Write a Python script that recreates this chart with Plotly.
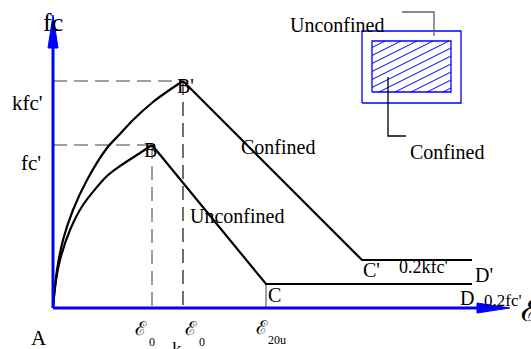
import plotly.graph_objects as go

# Stress-strain model for unconfined and confined concrete (Kent-Park type)
# strain axis in drawing units, stress axis in drawing units (origin at A)

# Ascending branch of the unconfined curve, up to peak B
unconf_rise_x = [0, 2, 7, 17, 30, 54, 67, 87, 99]
unconf_rise_y = [0, 21, 48, 78, 103, 132, 142, 155, 163]
# Descending branch B -> C and residual plateau C -> D
unconf_tail_x = [99, 213, 419]
unconf_tail_y = [163, 24, 24]

# Ascending branch of the confined curve, up to peak B'
conf_rise_x = [0, 1, 4, 10, 20, 34, 54, 67, 80, 100, 115, 130]
conf_rise_y = [0, 11, 38, 68, 98, 128, 160, 174, 188, 206, 217, 227]
# Descending branch B' -> C' and residual plateau C' -> D'
conf_tail_x = [130, 309, 419]
conf_tail_y = [227, 48, 48]

# Characteristic strains / stresses
eps0 = 99          # strain at peak, unconfined
keps0 = 130        # strain at peak, confined
eps20u = 213       # strain at 0.2 fc' (unconfined)
fc = 163           # fc'
kfc = 227          # k fc'
res_unconf = 24    # 0.2 fc'

# Axis extents
x_axis_end, x_arrow_tip = 424, 457
y_axis_end, y_arrow_tip = 260, 293

# Section inset (outer cover and hatched confined core)
outer_box = [309, 408, 205, 277]
core_box = [319, 398, 216, 267]
hatch_slope = 0.5
hatch_step = 8

# Leader lines of the inset
leader_unconf_x = [349, 381, 381]
leader_unconf_y = [296, 296, 272]
leader_conf_x = [335, 335, 353]
leader_conf_y = [231, 172, 172]

# Text labels: (text, x, y, size)
labels = [
    ("fc", 0, 286, 26),
    ("kfc'", -26, 205, 21),
    ("fc'", -22, 145, 21),
    ("B'", 132, 222, 20),
    ("B", 97, 158, 20),
    ("Confined", 225, 161, 20),
    ("Unconfined", 184, 92, 20),
    ("C", 221, 13, 20),
    ("C'", 318, 38, 20),
    ("0.2kfc'", 370, 41, 18),
    ("D'", 431, 33, 20),
    ("D", 414, 10, 20),
    ("0.2fc'", 450, 8, 17),
    ("Unconfined", 284, 283, 20),
    ("Confined", 394, 156, 20),
    ("A", -14, -30, 21),
    ("k", 124, -40, 19),
]
eps_labels = [  # (x, y, size) of strain symbols
    (88, -20, 19),
    (138, -20, 19),
    (209, -19, 19),
    (477, -2, 30),
]
sub_labels = [  # (text, x, y)
    ("0", 99, -34),
    ("0", 149, -34),
    ("20u", 224, -32),
]

fig = go.Figure()

def line(xs, ys, color="black", width=2, dash=None, shape="linear"):
    fig.add_trace(go.Scatter(
        x=xs, y=ys, mode="lines", hoverinfo="skip",
        line=dict(color=color, width=width, dash=dash, shape=shape,
                  smoothing=0.8 if shape == "spline" else None),
    ))

# Reference dashed lines
dash = "14px,7px"
line([0, keps0], [kfc, kfc], "#808080", 1.5, dash)
line([keps0, keps0], [kfc, 0], "#404040", 1.5, dash)
line([0, eps0], [fc, fc], "#808080", 1.5, dash)
line([eps0, eps0], [fc, 0], "#808080", 1.5, dash)
line([eps20u, eps20u], [res_unconf, 0], "#808080", 1.5)

# Curves: smooth ascending branches, straight softening and plateau
line(unconf_rise_x, unconf_rise_y, "black", 2.2, shape="spline")
line(unconf_tail_x, unconf_tail_y, "black", 2.2)
line(conf_rise_x, conf_rise_y, "black", 2.2, shape="spline")
line(conf_tail_x, conf_tail_y, "black", 2.2)

# Axes with arrowheads
line([0, x_axis_end], [0, 0], "blue", 3)
line([0, 0], [0, y_axis_end], "blue", 3)
fig.add_trace(go.Scatter(
    x=[x_axis_end, x_arrow_tip, x_axis_end, x_axis_end], y=[5, 0, -5, 5],
    mode="lines", fill="toself", fillcolor="blue", line=dict(color="blue", width=1),
    hoverinfo="skip"))
fig.add_trace(go.Scatter(
    x=[-5, 0, 5, -5], y=[y_axis_end, y_arrow_tip, y_axis_end, y_axis_end],
    mode="lines", fill="toself", fillcolor="blue", line=dict(color="blue", width=1),
    hoverinfo="skip"))

# Inset: rectangles
ox0, ox1, oy0, oy1 = outer_box
cx0, cx1, cy0, cy1 = core_box
line([ox0, ox1, ox1, ox0, ox0], [oy0, oy0, oy1, oy1, oy0], "blue", 1.3)
line([cx0, cx1, cx1, cx0, cx0], [cy0, cy0, cy1, cy1, cy0], "blue", 1.3)

# Hatching of the core, clipped to the core rectangle
hx, hy = [], []
c = cy0 - hatch_slope * (cx1 - cx0) + hatch_step / 2
while c < cy1:
    # line: y = c + slope * (x - cx0)
    xa = max(cx0, cx0 + (cy0 - c) / hatch_slope)
    xb = min(cx1, cx0 + (cy1 - c) / hatch_slope)
    if xb > xa:
        hx += [xa, xb, None]
        hy += [c + hatch_slope * (xa - cx0), c + hatch_slope * (xb - cx0), None]
    c += hatch_step
line(hx, hy, "blue", 1)

# Leaders
line(leader_unconf_x, leader_unconf_y, "#606060", 1.3)
line(leader_conf_x, leader_conf_y, "black", 1.3)

serif = "Liberation Serif, Times New Roman, serif"
annotations = []
for text, x, y, size in labels:
    annotations.append(dict(x=x, y=y, text=text, showarrow=False,
                            font=dict(family=serif, size=size, color="black"),
                            xanchor="center", yanchor="middle"))
for x, y, size in eps_labels:
    annotations.append(dict(x=x, y=y, text="ℰ", showarrow=False,
                            font=dict(family=serif, size=size, color="black"),
                            xanchor="center", yanchor="middle"))
for text, x, y in sub_labels:
    annotations.append(dict(x=x, y=y, text=text, showarrow=False,
                            font=dict(family=serif, size=12, color="black"),
                            xanchor="center", yanchor="middle"))

fig.update_layout(
    width=531, height=349,
    margin=dict(l=0, r=0, t=0, b=0),
    paper_bgcolor="white", plot_bgcolor="white",
    showlegend=False,
    annotations=annotations,
    xaxis=dict(range=[-53, 478], visible=False, fixedrange=True),
    yaxis=dict(range=[-41, 308], visible=False, fixedrange=True),
)

fig.write_html("out.html")
